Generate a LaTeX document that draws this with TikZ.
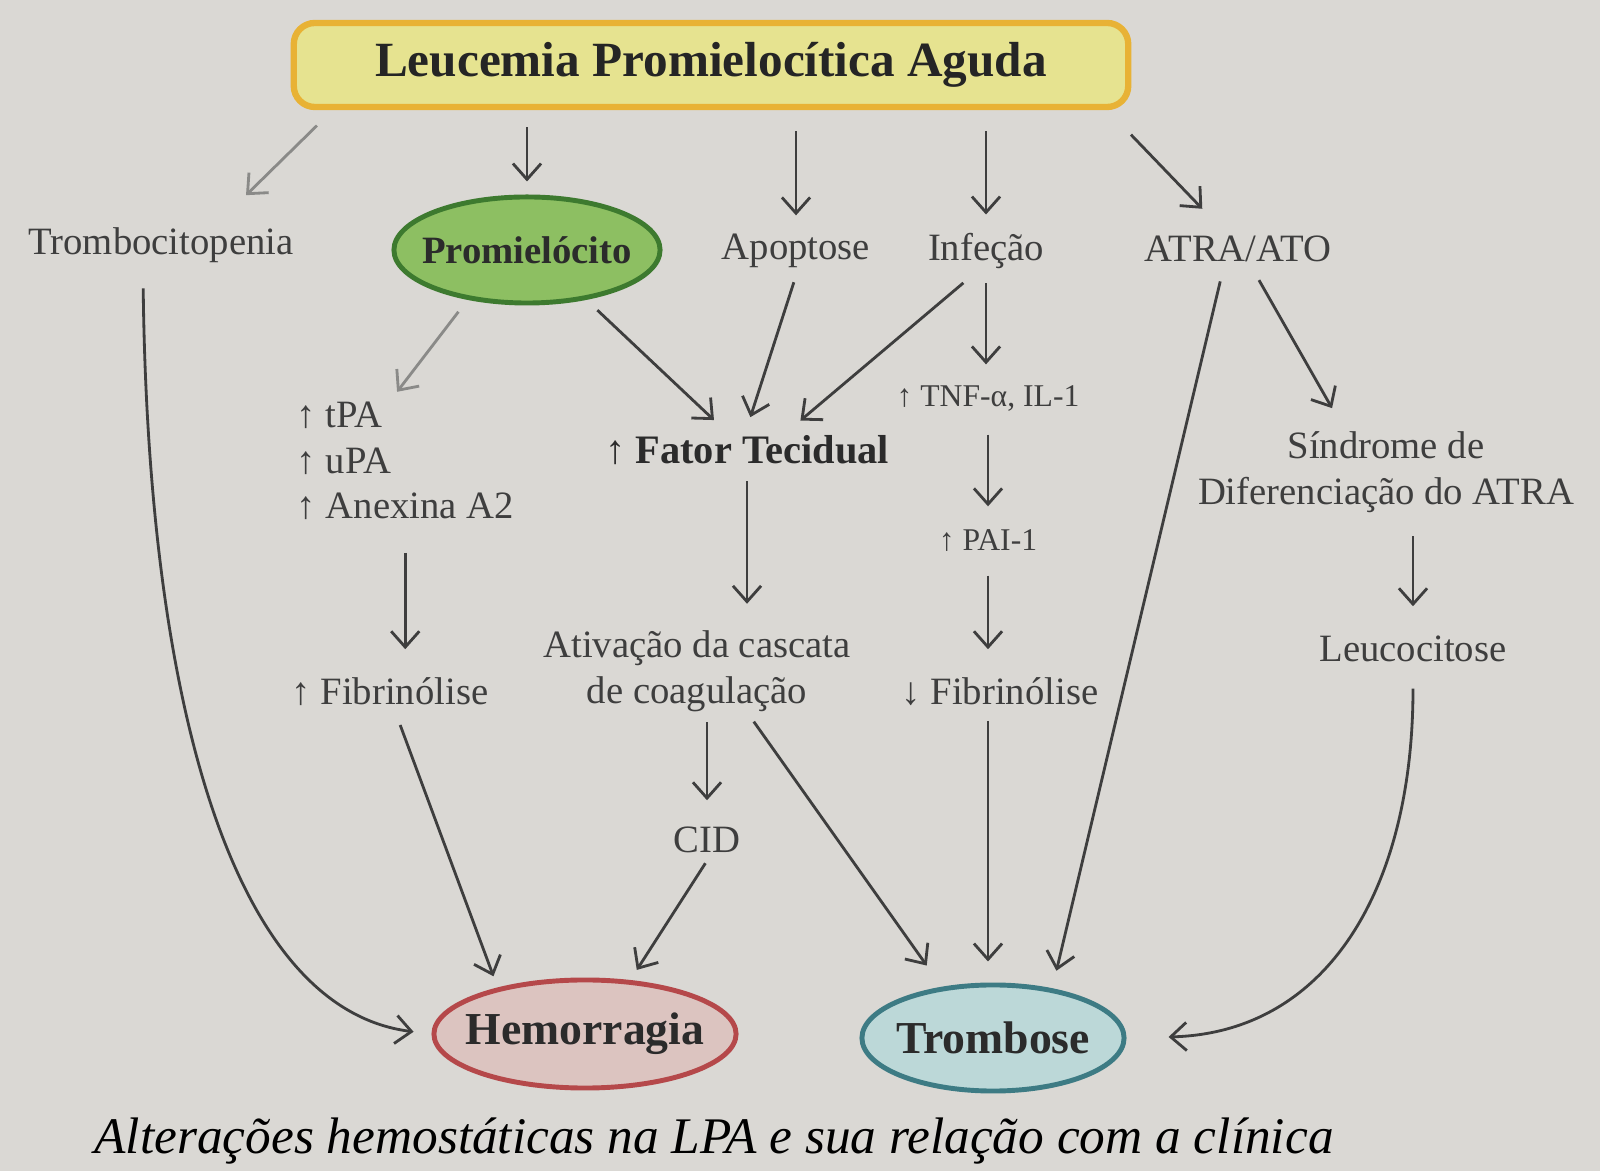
\documentclass[tikz,border=0pt]{standalone}
\usepackage{fontspec}
\setmainfont{Liberation Serif}
\usetikzlibrary{arrows.meta,shapes.geometric}

\definecolor{fundo}{HTML}{DAD8D4}
\definecolor{tinta}{HTML}{3E3E3E}
\definecolor{setacinza}{HTML}{8A8A88}
\definecolor{amarelo}{HTML}{E6E390}
\definecolor{laranja}{HTML}{E8B235}
\definecolor{verde}{HTML}{8DBF62}
\definecolor{verdeesc}{HTML}{3D7A2F}
\definecolor{rosa}{HTML}{DCC4C0}
\definecolor{vermelho}{HTML}{B5484A}
\definecolor{azul}{HTML}{BCD8D8}
\definecolor{azulesc}{HTML}{3D7B84}

\begin{document}
\begin{tikzpicture}[x=0.01cm, y=-0.01cm,
    rotulo/.style={text=tinta, font=\fontsize{11}{13}\selectfont, inner sep=2pt},
    miudo/.style={rotulo, font=\fontsize{9}{11}\selectfont},
    negrito/.style={rotulo, font=\fontsize{11.5}{13}\selectfont\bfseries, text=tinta!70!black},
    caixa/.style={draw=laranja, fill=amarelo, line width=1.8pt, rounded corners=6pt, minimum width=8.34cm, minimum height=0.84cm, font=\fontsize{14}{16}\selectfont\bfseries, text=tinta!60!black},
    elipse/.style={ellipse, line width=1.4pt, inner ysep=0pt, font=\fontsize{13}{15}\selectfont\bfseries, text=tinta!70!black},
    legenda/.style={font=\fontsize{14.6}{17}\selectfont\itshape, text=black},
    seta/.style={draw=tinta, line width=0.8pt, -{Straight Barb[length=4.5pt,width=8pt]}},
    setaclara/.style={seta, draw=setacinza}]
    \useasboundingbox[fill=fundo] (0,0) rectangle (1600,1171);

    \node[caixa] (lpa) at (711,65) {Leucemia Promielocítica Aguda};
    \node[rotulo] (trombocit) at (161,245) {Trombocitopenia};
    \node[elipse, fill=verde, draw=verdeesc, inner xsep=-1.2mm, minimum width=2.66cm, minimum height=1.06cm, font=\fontsize{11}{13}\selectfont\bfseries] (promiel) at (527,250) {Promielócito};
    \node[rotulo] (apopt) at (796,251) {Apoptose};
    \node[rotulo] (infec) at (986,251) {Infeção};
    \node[rotulo] (atra) at (1238,249) {ATRA/ATO};

    \node[rotulo, anchor=west, align=left] (ativ) at (289,461) {↑ tPA\\↑ uPA\\↑ Anexina A2};
    \node[negrito] (fator) at (747,450) {↑ Fator Tecidual};
    \node[miudo] (tnf) at (988,398) {↑ TNF-α, IL-1};
    \node[miudo] (pai) at (988,541) {↑ PAI-1};
    \node[rotulo, align=center] (sindr) at (1386,472) {Síndrome de\\Diferenciação do ATRA};
    \node[rotulo] (leuco) at (1413,649) {Leucocitose};

    \node[rotulo] (fibmais) at (390,692) {↑ Fibrinólise};
    \node[rotulo, align=center] (cascata) at (697,671) {Ativação da cascata\\de coagulação};
    \node[rotulo] (fibmenos) at (1000,692) {↓ Fibrinólise};
    \node[rotulo] (cid) at (707,840) {CID};

    \node[elipse, fill=rosa, draw=vermelho, inner xsep=-1.3mm, minimum width=3.02cm, minimum height=1.08cm] (hemorragia) at (585,1034) {Hemorragia};
    \node[elipse, fill=azul, draw=azulesc, inner xsep=-0.6mm, minimum width=2.62cm, minimum height=1.06cm] (trombose) at (993,1038) {Trombose};
    \node[legenda] (titulo) at (714,1141) {Alterações hemostáticas na LPA e sua relação com a clínica};

    \draw[setaclara, shorten <=2.2mm, shorten >=3.5mm] ([xshift=4.2mm]lpa.south west) -- ([xshift=6mm]trombocit.north);
    \draw[seta, shorten <=1.7mm, shorten >=1.3mm] (lpa.south -| promiel.north) -- (promiel.north);
    \draw[seta, shorten <=2.1mm, shorten >=1.1mm] (lpa.south -| apopt.north) -- (apopt.north);
    \draw[seta, shorten <=2.1mm, shorten >=1.1mm] (lpa.south -| infec.north) -- (infec.north);
    \draw[seta, shorten <=3.4mm, shorten >=2.7mm] ([xshift=-2.4mm]lpa.south east) -- ([xshift=-1.7mm]atra.north);

    \draw[setaclara, shorten <=1.5mm, shorten >=0.3mm] (promiel.-140) -- ([xshift=-1mm]ativ.north);
    \draw[seta, shorten <=1.5mm, shorten >=1.1mm] (promiel.-40) -- ([xshift=-2.5mm]fator.north);
    \draw[seta, shorten <=0.7mm, shorten >=1.1mm] (apopt.south) -- (fator.north);
    \draw[seta, shorten <=1mm, shorten >=1.1mm] ([xshift=-1.5mm]infec.south) -- ([xshift=4.5mm]fator.north);
    \draw[seta, shorten <=0.7mm, shorten >=1.3mm] (infec.south) -- (infec.south |- tnf.north);
    \draw[seta, shorten <=1.6mm, shorten >=1.6mm] (tnf.south) -- (pai.north);
    \draw[seta, shorten <=1.6mm, shorten >=2.1mm] (pai.south) -- (pai.south |- fibmenos.north);
    \draw[seta, shorten <=0.7mm, shorten >=2.1mm] (pai.south |- fibmenos.south) -- (pai.south |- trombose.north);
    \draw[seta, shorten <=1.2mm, shorten >=1.8mm] ([xshift=-1.5mm]atra.south) -- (trombose.40);
    \draw[seta, shorten <=1.2mm, shorten >=1.8mm] ([xshift=1.5mm]atra.south) -- ([xshift=-4.5mm]sindr.north);
    \draw[seta, shorten <=1.6mm, shorten >=2.2mm] (leuco.north |- sindr.south) -- (leuco.north);
    \draw[seta, shorten <=1.9mm, shorten >=4.2mm] (leuco.south) .. controls +(0,220) and +(200,-5) .. (trombose.east);

    \draw[seta, shorten <=1.8mm, shorten >=1.8mm] ([xshift=-1.8mm]trombocit.south) .. controls +(5,430) and +(-200,-25) .. (hemorragia.west);
    \draw[seta, shorten <=2.5mm, shorten >=2.1mm] (ativ.south) -- (ativ.south |- fibmais.north);
    \draw[seta, shorten <=1.2mm, shorten >=1.2mm] ([xshift=0.6mm]fibmais.south) -- (hemorragia.152);
    \draw[seta, shorten <=0.9mm, shorten >=1.9mm] (fator.south) -- (fator.south |- cascata.north);
    \draw[seta, shorten <=0.3mm, shorten >=1.9mm] (cid.north |- cascata.south) -- (cid.north);
    \draw[seta, shorten <=0.3mm, shorten >=2.6mm] ([xshift=5.5mm]cascata.south) -- (trombose.135);
    \draw[seta, shorten <=0.3mm, shorten >=1.2mm] (cid.south) -- (hemorragia.50);
\end{tikzpicture}
\end{document}
